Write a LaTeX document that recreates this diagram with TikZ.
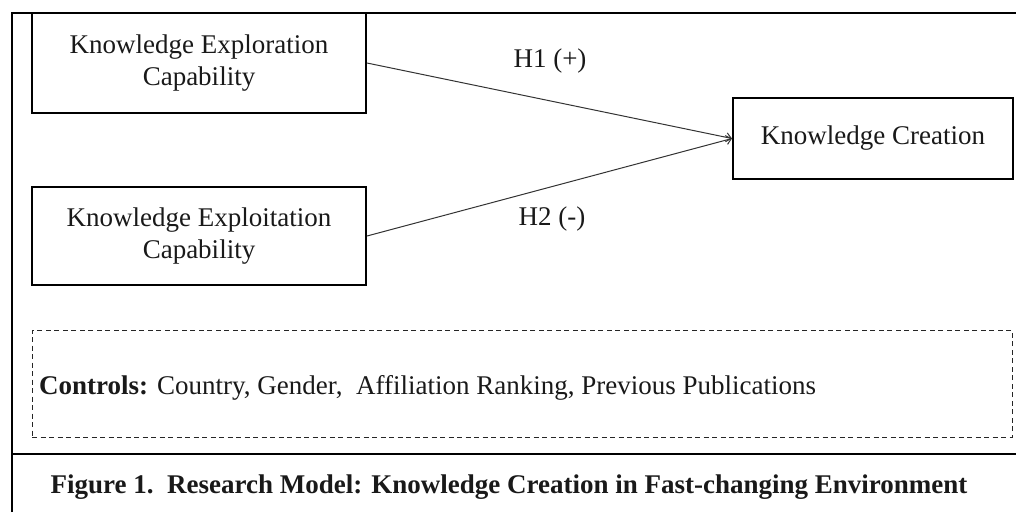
\documentclass[tikz,border=0pt]{standalone}
\usepackage{fontspec}
\setmainfont{Liberation Serif}
\usetikzlibrary{arrows.meta}
\begin{document}
\begin{tikzpicture}[x=1pt,y=-1pt,
  every node/.style={font=\fontsize{27}{32}\selectfont, text=black!90},
  varbox/.style={draw=black, line width=2pt, inner sep=0pt, align=center},
  ctrlbox/.style={draw=black!85, line width=1pt, dash pattern=on 5pt off 3.5pt, inner sep=0pt},
  path/.style={draw=black!80, line width=1pt, -{Straight Barb[length=5pt,width=9pt]}},
  frame/.style={line width=2pt}]
\useasboundingbox (0,0) rectangle (1016,512);
% frame
\draw[frame] (12,512) -- (12,13) -- (1016,13);
\draw[frame] (12,454) -- (1016,454);
% variables
\node[varbox, minimum width=334pt, minimum height=100pt] (exr) at (199,63) {Knowledge Exploration\\Capability};
\node[varbox, minimum width=334pt, minimum height=98pt] (exp) at (199,236) {Knowledge Exploitation\\Capability};
\node[varbox, minimum width=280pt, minimum height=81pt] (kc) at (873,138.5) {Knowledge Creation};
% controls
\node[ctrlbox, minimum width=980pt, minimum height=107pt] (ctrl) at (522,383.5) {};
\node[anchor=base west, inner sep=0pt] (ctrltxt) at (39,394) {\textbf{Controls:} Country, Gender,\ \ Affiliation Ranking, Previous Publications};
% paths
\draw[path] (exr.east) -- (kc.west);
\draw[path] (exp.east) -- (kc.west);
\node[anchor=base, inner sep=0pt] (h1) at (550,67) {H1 (+)};
\node[anchor=base, inner sep=0pt] (h2) at (552,225) {H2 (-)};
% caption
\node[anchor=base, inner sep=0pt] (cap) at (509,493) {\textbf{Figure 1.\ \ Research Model: Knowledge Creation in Fast-changing Environment}};
\end{tikzpicture}
\end{document}
